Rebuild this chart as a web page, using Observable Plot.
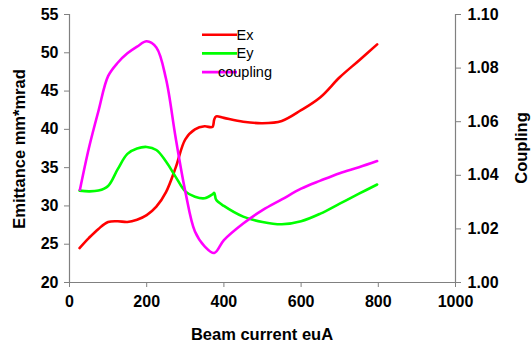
<!DOCTYPE html>
<html>
<head>
<meta charset="utf-8">
<script src="https://cdn.jsdelivr.net/npm/d3@7"></script>
<script src="https://cdn.jsdelivr.net/npm/@observablehq/plot@0.6"></script>
<style>
  html, body { margin: 0; padding: 0; background: #fff; }
</style>
</head>
<body>
<div id="chart"></div>
<script>
// Beam current (euA) and series values
const exX = [26, 50, 75, 100, 125, 150, 175, 200, 225, 250, 275, 300, 325, 350, 370, 375, 380, 400, 450, 500, 550, 600, 650, 700, 750, 797];
const exY = [24.5, 25.8, 27.0, 27.9, 28.0, 27.9, 28.2, 28.8, 29.9, 31.8, 35.0, 38.7, 40.0, 40.4, 40.3, 41.3, 41.7, 41.5, 41.0, 40.8, 41.1, 42.5, 44.2, 46.8, 49.0, 51.1];

const eyX = [26, 50, 75, 100, 125, 150, 175, 200, 225, 250, 275, 300, 325, 350, 370, 375, 380, 400, 450, 500, 550, 600, 650, 700, 750, 797];
const eyY = [32.0, 31.9, 32.0, 32.6, 34.8, 36.8, 37.5, 37.7, 37.3, 35.8, 33.8, 31.9, 31.2, 31.0, 31.5, 31.7, 30.8, 30.0, 28.6, 27.9, 27.6, 28.0, 29.0, 30.3, 31.6, 32.8];

const cpX = [27, 50, 75, 100, 125, 150, 175, 200, 225, 250, 275, 300, 325, 350, 375, 400, 450, 500, 550, 600, 650, 700, 750, 797];
const cpY = [1.0346, 1.050, 1.064, 1.077, 1.082, 1.0855, 1.088, 1.090, 1.0877, 1.076, 1.054, 1.034, 1.019, 1.0135, 1.011, 1.0158, 1.022, 1.027, 1.031, 1.035, 1.038, 1.0408, 1.043, 1.0453];

const xTicks = [0, 200, 400, 600, 800, 1000];
const leftTicks = [20, 25, 30, 35, 40, 45, 50, 55];
const rightTicks = [1.00, 1.02, 1.04, 1.06, 1.08, 1.10];

const seriesNames = ["Ex", "Ey", "coupling"];
const seriesColors = ["#ff0000", "#00ff00", "#ff00ff"];

// map coupling onto emittance scale: [1.00,1.10] -> [20,55]
const cToE = c => 20 + (c - 1) * 350;
const eToC = e => (e - 20) / 350 + 1;

const exData = exX.map((x, i) => ({x, y: exY[i]}));
const eyData = eyX.map((x, i) => ({x, y: eyY[i]}));
const cpData = cpX.map((x, i) => ({x, y: cToE(cpY[i])}));

const axisColor = "#808080";
const font = "'Liberation Sans', Arial, sans-serif";

const plot = Plot.plot({
  width: 531,
  height: 345,
  marginLeft: 69,
  marginRight: 76,
  marginTop: 14,
  marginBottom: 63,
  style: {fontFamily: font, fontSize: "16px", fontWeight: "bold", color: "#000", background: "#fff"},
  x: {domain: [0, 1000]},
  y: {domain: [20, 55]},
  marks: [
    Plot.axisX({ticks: xTicks, tickFormat: d => String(d), tickSize: 5, tickPadding: 8, stroke: axisColor, label: null, fill: "#000"}),
    Plot.axisY({ticks: leftTicks, tickFormat: d => String(d), tickSize: 5, tickPadding: 6, stroke: axisColor, label: null, fill: "#000"}),
    Plot.axisY({anchor: "right", ticks: rightTicks.map(cToE), tickFormat: v => eToC(v).toFixed(2), tickSize: 5, tickPadding: 7, stroke: axisColor, label: null, fill: "#000"}),
    Plot.ruleX([0], {stroke: axisColor, strokeWidth: 1.2}),
    Plot.ruleX([1000], {stroke: axisColor, strokeWidth: 1.2}),
    Plot.ruleY([20], {stroke: axisColor, strokeWidth: 1.2}),
    Plot.line(exData, {x: "x", y: "y", stroke: seriesColors[0], strokeWidth: 2.6, curve: "catmull-rom"}),
    Plot.line(eyData, {x: "x", y: "y", stroke: seriesColors[1], strokeWidth: 2.6, curve: "catmull-rom"}),
    Plot.line(cpData, {x: "x", y: "y", stroke: seriesColors[2], strokeWidth: 2.6, curve: "catmull-rom"})
  ]
});

document.getElementById("chart").appendChild(plot);

const svg = d3.select(plot);
// axis titles
svg.append("text")
  .attr("transform", "translate(25,149) rotate(-90)")
  .attr("text-anchor", "middle")
  .style("font-family", font).style("font-size", "16.5px").style("font-weight", "bold")
  .text("Emittance mm*mrad");
svg.append("text")
  .attr("x", 262).attr("y", 340)
  .attr("text-anchor", "middle")
  .style("font-family", font).style("font-size", "16.5px").style("font-weight", "bold")
  .text("Beam current euA");
svg.append("text")
  .attr("transform", "translate(527,148) rotate(-90)")
  .attr("text-anchor", "middle")
  .style("font-family", font).style("font-size", "16.5px").style("font-weight", "bold")
  .text("Coupling");

// legend
const legend = svg.append("g");
seriesNames.forEach((name, i) => {
  const y = 34.7 + i * 18.7;
  legend.append("line").attr("x1", 202).attr("x2", 237).attr("y1", y).attr("y2", y)
    .attr("stroke", seriesColors[i]).attr("stroke-width", 2.6);
  legend.append("text").attr("x", 245).attr("y", y + 5)
    .style("font-family", font).style("font-size", "14.5px").style("font-weight", "normal")
    .text(name);
});
</script>
</body>
</html>
